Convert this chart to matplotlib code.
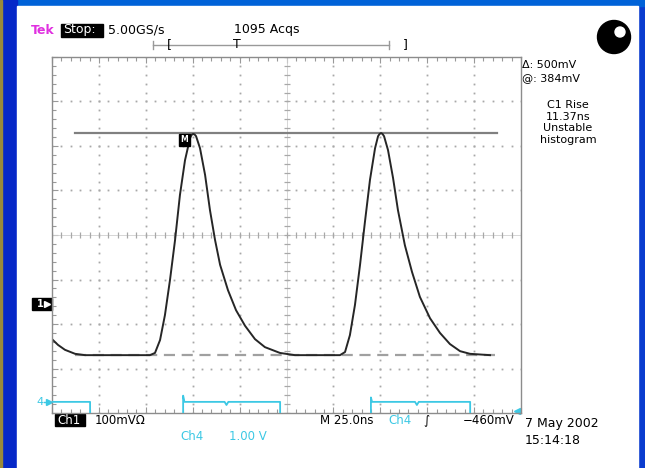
import numpy as np
import matplotlib.pyplot as plt
from matplotlib.patches import Rectangle, Circle

# Ch1 trace: time (ns), voltage (mV)
ch1_t = [0, 3.2, 6.9, 12.3, 17.6, 36.2, 52.2, 54.9, 57.6, 60.2, 62.9, 65.6, 68.2,
         70.9, 73.6, 74.4, 75.2, 76.0, 76.8, 78.9, 81.6, 84.2, 86.9, 89.6, 93.8,
         98.1, 102.9, 108.2, 113.5, 121.5, 129.5, 153.5, 156.2, 158.8, 161.5,
         164.2, 166.8, 169.5, 172.2, 173.8, 174.6, 175.4, 176.2, 177.0, 179.1,
         181.8, 184.4, 188.1, 191.9, 196.1, 201.5, 206.8, 212.1, 217.5, 222.8,
         233.5]
ch1_mv = [-80, -93, -104, -113, -116, -116, -116, -111, -82, -26, 53, 143, 244,
          322, 372, 379, 381, 380, 376, 349, 289, 210, 143, 87, 30,
          -15, -50, -80, -98, -111, -116, -116, -109, -71, -3,
          87, 183, 278, 349, 376, 381, 383, 381, 376, 345,
          282, 210, 131, 71, 15, -33, -66, -91, -107, -113,
          -116]

# Ch4 digital trace (V); low level sits below the screen
ch4_t = [0, 20.3, 20.3, 69.9, 69.9, 70.6, 92, 93, 94, 121.6, 121.6,
         170.0, 170.0, 170.6, 193.5, 194.5, 195.5, 222.9, 222.9, 233.5]
ch4_v = [0, 0, -0.6, -0.6, 0.14, 0, 0, -0.07, 0, 0, -0.6,
         -0.6, 0.1, 0, 0, -0.07, 0, 0, -0.6, -0.6]

# cursors (mV) and their time extent (ns)
cursor_top = 384
cursor_bot = -116
cursor_span = [12.3, 237]

ns_div = 25
mv_div = 100
screen_bot = -246   # mV at the bottom graticule line
ch4_bot = -0.25     # V at the bottom graticule line

cyan = '#3cc8e4'
grey = '#a8a8a8'
font = 'DejaVu Sans'

fig = plt.figure(figsize=(6.45, 4.68), dpi=100)

# background, drawn in pixel units
bg = fig.add_axes([0, 0, 1, 1], zorder=0)
bg.set_xlim(0, 645)
bg.set_ylim(468, 0)
bg.axis('off')
bg.add_patch(Rectangle((0, 0), 645, 468, color='#0a3ccf'))
bg.add_patch(Rectangle((0, 0), 645, 6, color='#0062d8'))
bg.add_patch(Rectangle((0, 0), 17, 468, color='#0628c8'))
bg.add_patch(Rectangle((0, 0), 1.5, 468, color='#9a8a3a'))
bg.add_patch(Rectangle((17, 6), 621, 462, color='white'))

# header
bg.text(31, 30, 'Tek', color='#e030e0', fontsize=9, fontweight='bold', va='center', family=font)
bg.add_patch(Rectangle((61, 24), 42, 13, color='black'))
bg.text(63, 30, 'Stop:', color='white', fontsize=9, va='center', family=font)
bg.text(108, 30, '5.00GS/s', fontsize=9, va='center', family=font)
bg.text(234, 30, '1095 Acqs', fontsize=9, va='center', family=font)
bg.plot([153, 389], [45, 45], color='#999999', lw=1)
bg.plot([153, 153], [41, 49], color='#999999', lw=1)
bg.plot([389, 389], [41, 49], color='#999999', lw=1)
bg.text(169, 45, '[', fontsize=9, va='center', ha='center', family=font)
bg.text(237, 45, 'T', fontsize=9, va='center', ha='center', family=font)
bg.text(405, 45, ']', fontsize=9, va='center', ha='center', family=font)
bg.add_patch(Circle((614, 37), 16.5, color='black'))
bg.add_patch(Circle((620, 32), 5, color='white'))

# measurement readout
bg.text(522, 65, '\u0394: 500mV', fontsize=8, va='center', family=font)
bg.text(522, 78, '@: 384mV', fontsize=8, va='center', family=font)
for y, s in zip([105, 117, 128, 140], ['C1 Rise', '11.37ns', 'Unstable', 'histogram']):
    bg.text(568, y, s, fontsize=8, va='center', ha='center', family=font)

# channel markers
bg.add_patch(Rectangle((32, 298), 20, 12, color='black'))
bg.text(37, 304, '1', color='white', fontsize=7, va='center', family=font, fontweight='bold')
bg.plot([47], [304], marker='>', color='white', ms=4)
bg.text(36, 402, '4', color=cyan, fontsize=8, va='center', family=font)
bg.plot([44, 50], [402, 402], color=cyan, lw=1)
bg.plot([49], [402], marker='>', color=cyan, ms=4)
bg.plot([517], [411], marker='<', color=cyan, ms=5)

# footer
bg.add_patch(Rectangle((55, 414), 30, 12, color='black'))
bg.text(57, 420, 'Ch1', color='white', fontsize=8.5, va='center', family=font)
bg.text(95, 420, '100mV\u03a9', fontsize=8.5, va='center', family=font)
bg.text(180, 436, 'Ch4', color=cyan, fontsize=8.5, va='center', family=font)
bg.text(229, 436, '1.00 V', color=cyan, fontsize=8.5, va='center', family=font)
bg.text(320, 420, 'M 25.0ns', fontsize=8.5, va='center', family=font)
bg.text(388, 420, 'Ch4', color=cyan, fontsize=8.5, va='center', family=font)
bg.text(426, 420, '\u222b', fontsize=8.5, va='center', ha='center', family=font)
bg.text(515, 420, '\u2212460mV', fontsize=8.5, va='center', ha='right', family=font)
bg.text(525, 424, '7 May 2002', fontsize=9, va='center', family=font)
bg.text(525, 441, '15:14:18', fontsize=9, va='center', family=font)

# scope screen
ax = fig.add_axes([52 / 645, 55 / 468, 469 / 645, 356 / 468], zorder=1)
ax.set_facecolor('none')
xmax = 10 * ns_div
ymax = screen_bot + 8 * mv_div
ax.set_xlim(0, xmax)
ax.set_ylim(screen_bot, ymax)
ax.set_xticks(np.arange(0, xmax + 1, ns_div))
ax.set_xticks(np.arange(0, xmax + 1, ns_div / 5), minor=True)
ax.set_yticks(np.arange(screen_bot, ymax + 1, mv_div))
ax.set_yticks(np.arange(screen_bot, ymax + 1, mv_div / 5), minor=True)
ax.tick_params(which='both', direction='in', top=True, right=True,
               labelbottom=False, labelleft=False, color='#999999', width=0.8)
ax.tick_params(which='major', length=4)
ax.tick_params(which='minor', length=3)
for sp in ax.spines.values():
    sp.set_color('#8c8c8c')
    sp.set_linewidth(1)

# graticule dots
xs_minor = np.arange(0, xmax + 0.1, ns_div / 5)
ys_minor = np.arange(screen_bot, ymax + 0.1, mv_div / 5)
xc = 5 * ns_div
yc = screen_bot + 4 * mv_div
for k in range(1, 10):
    if k == 5:
        continue
    ax.plot(np.full_like(ys_minor, k * ns_div), ys_minor, ls='none', marker='s',
            ms=1.3, mew=0, color=grey)
for k in range(1, 8):
    if k == 4:
        continue
    yy = screen_bot + k * mv_div
    ax.plot(xs_minor, np.full_like(xs_minor, yy), ls='none', marker='s',
            ms=1.3, mew=0, color=grey)
# centre cross with ticks
ax.plot([xc, xc], [screen_bot, ymax], color='#d0d0d0', lw=0.6)
ax.plot([0, xmax], [yc, yc], color='#d0d0d0', lw=0.6)
ax.plot(np.full_like(ys_minor, xc), ys_minor, ls='none', marker='_', ms=5, mew=0.9, color=grey)
ax.plot(xs_minor, np.full_like(xs_minor, yc), ls='none', marker='|', ms=5, mew=0.9, color=grey)

# cursors
ax.plot(cursor_span, [cursor_top, cursor_top], color='#808080', lw=1.6)
ax.plot(cursor_span, [cursor_bot, cursor_bot], color='#a0a0a0', lw=1.6, ls=(0, (5, 3)))

# traces
ax.plot(ch1_t, ch1_mv, color='#262626', lw=1.4)
ax2 = ax.twinx()
ax2.set_ylim(ch4_bot, ch4_bot + 8)
ax2.axis('off')
ax2.plot(ch4_t, ch4_v, color=cyan, lw=1.3)

# measurement marker at the first peak
ax.text(70.5, 368, 'M', color='white', fontsize=5.5, ha='center', va='center',
        family=font, fontweight='bold',
        bbox=dict(boxstyle='square,pad=0.2', fc='black', ec='black'))

fig.savefig('out.png', dpi=100)
